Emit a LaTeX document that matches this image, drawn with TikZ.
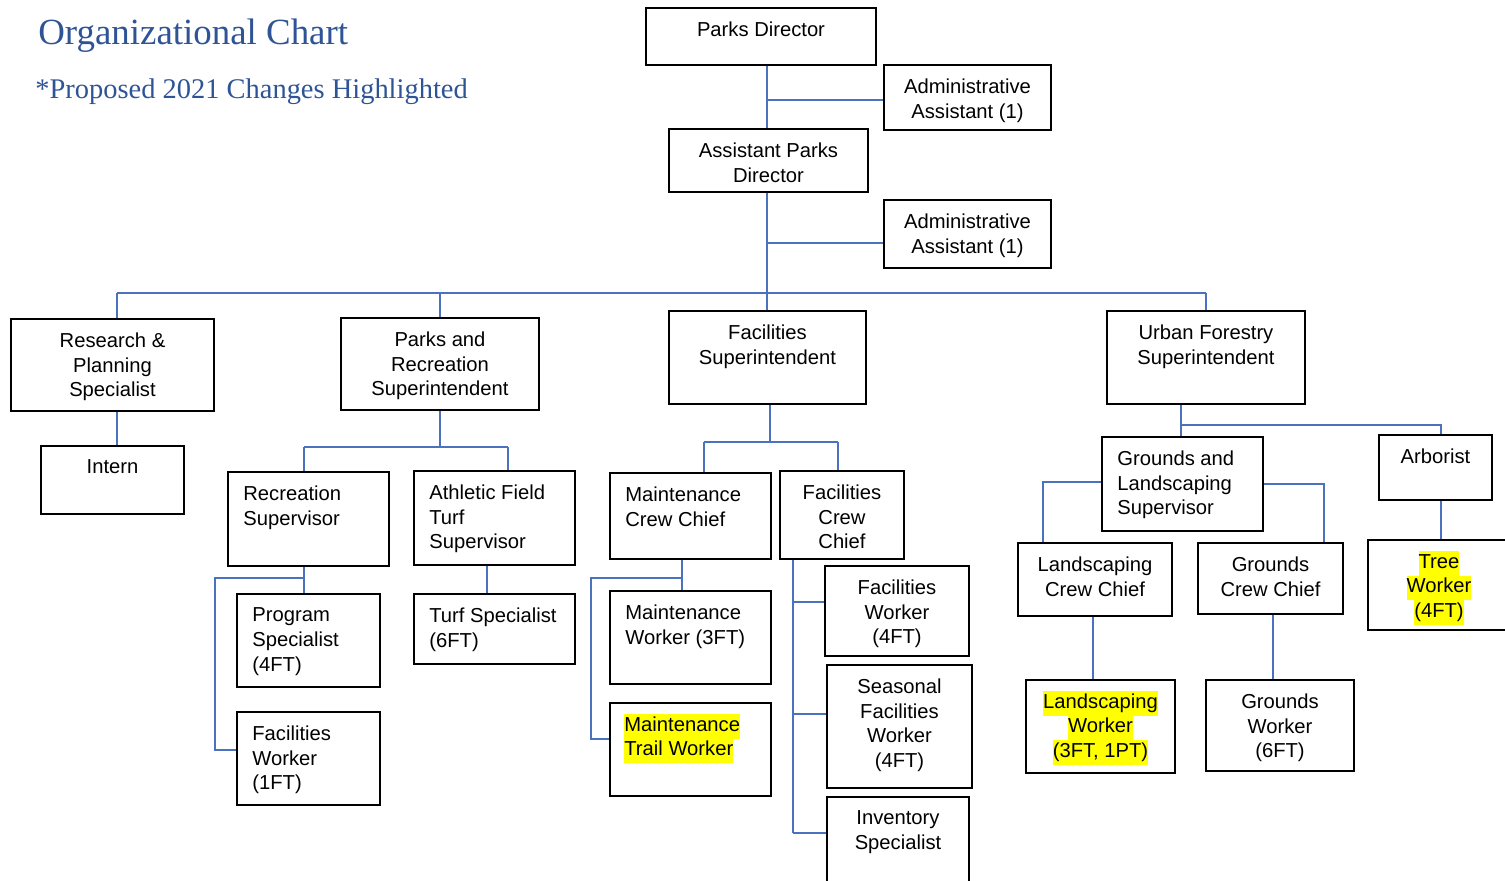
\documentclass[tikz,border=0pt]{standalone}
\usepackage{fontspec}
\setmainfont{Liberation Sans}
\newfontfamily\titlefont{Liberation Serif}
\usetikzlibrary{fit}
\definecolor{lineblue}{RGB}{74,114,190}
\definecolor{titleblue}{RGB}{47,84,150}
\definecolor{hlyellow}{RGB}{255,255,0}
\setlength{\fboxsep}{0pt}
\newcommand\hl[1]{\colorbox{hlyellow}{\strut #1}}
\begin{document}
\begin{tikzpicture}[x=0.02cm, y=-0.02cm,
  box/.style={draw, line width=1.1pt, inner sep=0pt},
  conn/.style={draw=lineblue, line width=0.6pt},
  txt/.style={inner sep=0pt, font=\fontsize{11.5}{14.1}\selectfont},
  ctext/.style={txt, anchor=north, align=center, yshift=-0.285cm},
  ltext/.style={txt, anchor=north west, align=left, xshift=0.32cm, yshift=-0.285cm},
  chl/.style={txt, anchor=north, align=center, yshift=-0.23cm},
  lhl/.style={txt, anchor=north west, align=left, xshift=0.3cm, yshift=-0.23cm}]
\useasboundingbox (0,0) rectangle (1505,881);

% titles
\node[anchor=base west, inner sep=0pt, text=titleblue, font=\titlefont\fontsize{21}{25}\selectfont] (title) at (38,44.5) {Organizational Chart};
\node[anchor=base west, inner sep=0pt, text=titleblue, font=\titlefont\fontsize{16.2}{19}\selectfont] (subtitle) at (35,98.5) {*Proposed 2021 Changes Highlighted};

% top
\node[box, fit={(646,8) (876,65)}, label={[ctext]north:{Parks Director}}] (pd) {};
\node[box, fit={(884,65) (1051,130)}, label={[ctext]north:{Administrative\\Assistant (1)}}] (aa1) {};
\node[box, fit={(669,129) (868,192)}, label={[ctext]north:{Assistant Parks\\Director}}] (apd) {};
\node[box, fit={(884,200) (1051,268)}, label={[ctext]north:{Administrative\\Assistant (1)}}] (aa2) {};

% second level
\node[box, fit={(11,319) (214,411)}, label={[ctext]north:{Research \&\\Planning\\Specialist}}] (rps) {};
\node[box, fit={(41,446) (184,514)}, label={[ctext]north:{Intern}}] (intern) {};
\node[box, fit={(341,318) (539,410)}, label={[ctext]north:{Parks and\\Recreation\\Superintendent}}] (prs) {};
\node[box, fit={(669,311) (866,404)}, label={[ctext]north:{Facilities\\Superintendent}}] (fs) {};
\node[box, fit={(1107,311) (1305,404)}, label={[ctext]north:{Urban Forestry\\Superintendent}}] (ufs) {};

% parks and recreation branch
\node[box, fit={(228,472) (389,566)}, label={[ltext]north west:{Recreation\\Supervisor}}] (recsup) {};
\node[box, fit={(414,471) (575,565)}, label={[ltext]north west:{Athletic Field\\Turf\\Supervisor}}] (aft) {};
\node[box, fit={(237,594) (380,687)}, label={[ltext]north west:{Program\\Specialist\\(4FT)}}] (prog) {};
\node[box, fit={(237,712) (380,805)}, label={[ltext]north west:{Facilities\\Worker\\(1FT)}}] (facw1) {};
\node[box, fit={(414,594) (575,664)}, label={[ltext]north west:{Turf Specialist\\(6FT)}}] (turf) {};

% facilities branch
\node[box, fit={(610,473) (771,559)}, label={[ltext]north west:{Maintenance\\Crew Chief}}] (mcc) {};
\node[box, fit={(780,471) (904,559)}, label={[ctext]north:{Facilities\\Crew\\Chief}}] (fcc) {};
\node[box, fit={(610,591) (771,684)}, label={[ltext]north west:{Maintenance\\Worker (3FT)}}] (mw) {};
\node[box, fit={(610,703) (771,796)}, label={[lhl]north west:{\hl{Maintenance}\\\hl{Trail Worker}}}] (mtw) {};
\node[box, fit={(825,566) (969,656)}, label={[ctext]north:{Facilities\\Worker\\(4FT)}}] (fw4) {};
\node[box, fit={(827,665) (972,788)}, label={[ctext]north:{Seasonal\\Facilities\\Worker\\(4FT)}}] (sfw) {};
\node[box, fit={(827,797) (969,886)}, label={[ctext]north:{Inventory\\Specialist}}] (inv) {};

% urban forestry branch
\node[box, fit={(1102,437) (1263,531)}, label={[ltext]north west:{Grounds and\\Landscaping\\Supervisor}}] (gls) {};
\node[box, fit={(1379,435) (1492,500)}, label={[ctext]north:{Arborist}}] (arb) {};
\node[box, fit={(1368,540) (1510,630)}, label={[chl]north:{\hl{Tree}\\\hl{Worker}\\\hl{(4FT)}}}] (tw) {};
\node[box, fit={(1018,543) (1172,616)}, label={[ctext]north:{Landscaping\\Crew Chief}}] (lcc) {};
\node[box, fit={(1198,543) (1343,614)}, label={[ctext]north:{Grounds\\Crew Chief}}] (gcc) {};
\node[box, fit={(1026,680) (1175,773)}, label={[chl]north:{\hl{Landscaping}\\\hl{Worker}\\\hl{(3FT, 1PT)}}}] (lw) {};
\node[box, fit={(1206,680) (1354,771)}, label={[ctext]north:{Grounds\\Worker\\(6FT)}}] (gw) {};

% junction coordinates
\coordinate (spine) at (767,293);
\coordinate (a1j) at (767,100);
\coordinate (a2j) at (767,243);
\coordinate (busL) at (117,293);
\coordinate (p0) at (440,447);
\coordinate (p1) at (304,447);
\coordinate (p2) at (508,447);
\coordinate (r1) at (304,578);
\coordinate (r2) at (215,578);
\coordinate (r3) at (215,750);
\coordinate (t1) at (487,580);
\coordinate (f0) at (770,442);
\coordinate (f1) at (704,442);
\coordinate (f2) at (838,442);
\coordinate (m1) at (682,578);
\coordinate (m2) at (591,578);
\coordinate (m3) at (591,739);
\coordinate (c1) at (793,602);
\coordinate (c2) at (793,714);
\coordinate (c3) at (793,833);
\coordinate (u0) at (1181,425);
\coordinate (u1) at (1441,425);
\coordinate (g1) at (1043,482);
\coordinate (g2) at (1324,484);
\coordinate (l1) at (1093,650);
\coordinate (l2) at (1273,650);

% connectors
\draw[conn] (pd.south -| spine) -- (apd.north -| spine);
\draw[conn] (a1j) -- (a1j -| aa1.west);
\draw[conn] (apd.south -| spine) -- (fs.north -| spine);
\draw[conn] (a2j) -- (a2j -| aa2.west);
\draw[conn] (busL) -- (ufs.north |- busL);
\draw[conn] (busL) -- (busL |- rps.north);
\draw[conn] (prs.north |- busL) -- (prs.north);
\draw[conn] (ufs.north |- busL) -- (ufs.north);
\draw[conn] (busL |- rps.south) -- (busL |- intern.north);

\draw[conn] (prs.south -| p0) -- (p0);
\draw[conn] (p1) -- (p2);
\draw[conn] (p1) -- (p1 |- recsup.north);
\draw[conn] (p2) -- (p2 |- aft.north);
\draw[conn] (recsup.south -| r1) -- (prog.north -| r1);
\draw[conn] (r1) -- (r2) -- (r3) -- (r3 -| facw1.west);
\draw[conn] (aft.south -| t1) -- (turf.north -| t1);

\draw[conn] (fs.south -| f0) -- (f0);
\draw[conn] (f1) -- (f2);
\draw[conn] (f1) -- (f1 |- mcc.north);
\draw[conn] (f2) -- (f2 |- fcc.north);
\draw[conn] (mcc.south -| m1) -- (mw.north -| m1);
\draw[conn] (m1) -- (m2) -- (m3) -- (m3 -| mtw.west);
\draw[conn] (fcc.south -| c1) -- (c3);
\draw[conn] (c1) -- (c1 -| fw4.west);
\draw[conn] (c2) -- (c2 -| sfw.west);
\draw[conn] (c3) -- (c3 -| inv.west);

\draw[conn] (ufs.south -| u0) -- (gls.north -| u0);
\draw[conn] (u0) -- (u1) -- (u1 |- arb.north);
\draw[conn] (arb.south -| u1) -- (tw.north -| u1);
\draw[conn] (g1 -| gls.west) -- (g1) -- (g1 |- lcc.north);
\draw[conn] (g2 -| gls.east) -- (g2) -- (g2 |- gcc.north);
\draw[conn] (lcc.south -| l1) -- (lw.north -| l1);
\draw[conn] (gcc.south -| l2) -- (gw.north -| l2);
\end{tikzpicture}
\end{document}
